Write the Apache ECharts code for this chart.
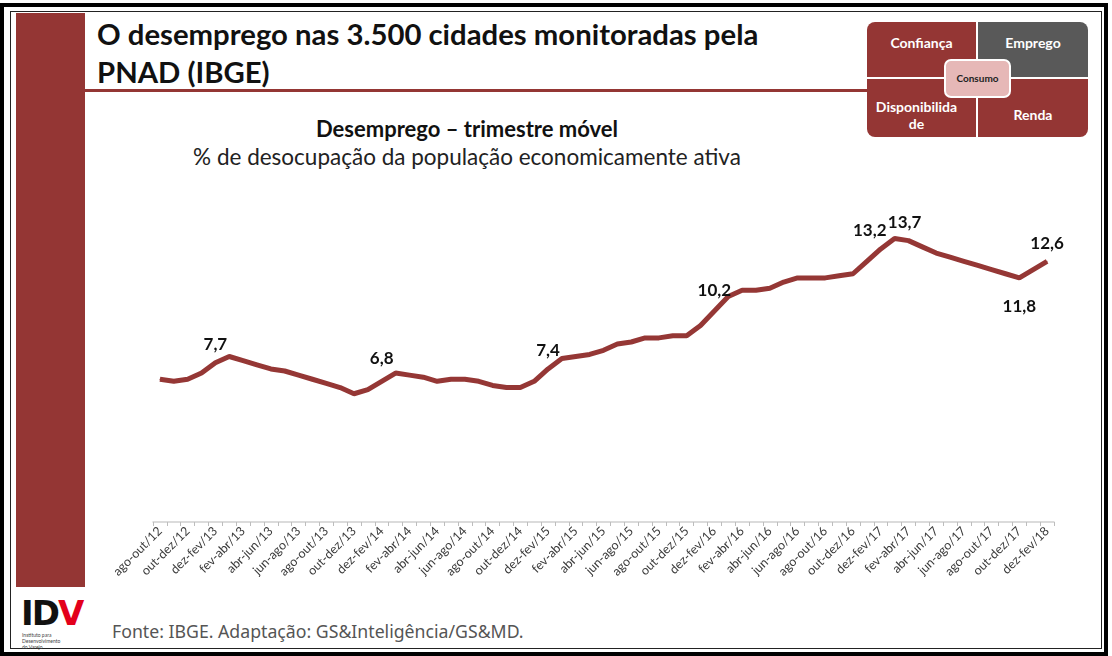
<!DOCTYPE html>
<html>
<head>
<meta charset="utf-8">
<script src="https://cdn.jsdelivr.net/npm/echarts@6/dist/echarts.min.js"></script>
<style>
  html, body { margin: 0; padding: 0; background: #fff; }
  body { width: 1112px; height: 656px; position: relative; overflow: hidden; font-family: Lato, "Noto Sans", sans-serif; }
  .abs { position: absolute; }
  .quad { position: absolute; color: #fff; font-weight: bold; font-size: 14px; text-align: center; line-height: 17px; }
</style>
</head>
<body>
<!-- moldura do slide -->
<div class="abs" style="left:0;top:3px;width:1108px;height:653px;border:4px solid #000;box-sizing:border-box;"></div>
<div class="abs" style="left:10px;top:11px;width:1092px;height:638px;border:1px solid #222;box-sizing:border-box;"></div>
<div class="abs" style="left:16px;top:13px;width:69px;height:574px;background:#943634;"></div>
<div class="abs" style="left:85px;top:89px;width:782px;height:3px;background:#943634;"></div>

<!-- titulo -->
<div class="abs" style="left:97px;top:15px;font-size:29.3px;font-weight:bold;line-height:38px;color:#111;">O desemprego nas 3.500 cidades monitoradas pela<br>PNAD (IBGE)</div>

<!-- quadro Consumo -->
<div class="abs" style="left:867px;top:22px;width:109px;height:55px;background:#943634;border-top-left-radius:8px;"></div>
<div class="abs" style="left:978px;top:22px;width:110px;height:55px;background:#595959;border-top-right-radius:8px;"></div>
<div class="abs" style="left:867px;top:79px;width:109px;height:58px;background:#943634;border-bottom-left-radius:8px;"></div>
<div class="abs" style="left:978px;top:79px;width:110px;height:58px;background:#943634;border-bottom-right-radius:8px;"></div>
<div class="quad" style="left:867px;top:34px;width:109px;">Confiança</div>
<div class="quad" style="left:978px;top:34px;width:110px;">Emprego</div>
<div class="quad" style="left:862px;top:98px;width:109px;">Disponibilida<br>de</div>
<div class="quad" style="left:978px;top:106px;width:110px;">Renda</div>
<div class="abs" style="left:944px;top:59px;width:63px;height:35px;background:#e6b8b7;border:2px solid #fff;border-radius:7px;font-size:10px;font-weight:bold;color:#222;text-align:center;line-height:35px;">Consumo</div>

<!-- titulo do grafico -->
<div class="abs" style="left:167px;top:115px;width:600px;text-align:center;font-size:22px;font-weight:bold;color:#111;">Desemprego – trimestre móvel</div>
<div class="abs" style="left:117px;top:143px;width:700px;text-align:center;font-size:22.5px;color:#222;">% de desocupação da população economicamente ativa</div>

<!-- rodape -->
<div class="abs" style="left:112px;top:619px;font-family:'Noto Sans';font-size:17.7px;color:#555;">Fonte: IBGE. Adaptação: GS&amp;Inteligência/GS&amp;MD.</div>
<div class="abs" style="left:21px;top:596px;font-family:'DejaVu Sans';font-weight:bold;font-size:34px;line-height:34px;letter-spacing:-2px;"><span style="color:#111;">ID</span><span style="color:#e3001b;">V</span></div>
<div class="abs" style="left:22px;top:632px;font-size:5px;line-height:6px;color:#444;">Instituto para<br>Desenvolvimento<br>do Varejo</div>

<div id="chart" class="abs" style="left:0;top:0;width:1112px;height:656px;"></div>

<script>
// categorias (trimestres moveis)
const categorias = [
  'ago-out/12','set-nov/12','out-dez/12','nov-jan/13','dez-fev/13','jan-mar/13','fev-abr/13','mar-mai/13',
  'abr-jun/13','mai-jul/13','jun-ago/13','jul-set/13','ago-out/13','set-nov/13','out-dez/13','nov-jan/14',
  'dez-fev/14','jan-mar/14','fev-abr/14','mar-mai/14','abr-jun/14','mai-jul/14','jun-ago/14','jul-set/14',
  'ago-out/14','set-nov/14','out-dez/14','nov-jan/15','dez-fev/15','jan-mar/15','fev-abr/15','mar-mai/15',
  'abr-jun/15','mai-jul/15','jun-ago/15','jul-set/15','ago-out/15','set-nov/15','out-dez/15','nov-jan/16',
  'dez-fev/16','jan-mar/16','fev-abr/16','mar-mai/16','abr-jun/16','mai-jul/16','jun-ago/16','jul-set/16',
  'ago-out/16','set-nov/16','out-dez/16','nov-jan/17','dez-fev/17','jan-mar/17','fev-abr/17','mar-mai/17',
  'abr-jun/17','mai-jul/17','jun-ago/17','jul-set/17','ago-out/17','set-nov/17','out-dez/17','nov-jan/18',
  'dez-fev/18'
];

// taxa de desocupacao (%)
const desemprego = [
  6.9, 6.8, 6.9, 7.2, 7.7, 8.0, 7.8, 7.6,
  7.4, 7.3, 7.1, 6.9, 6.7, 6.5, 6.2, 6.4,
  6.8, 7.2, 7.1, 7.0, 6.8, 6.9, 6.9, 6.8,
  6.6, 6.5, 6.5, 6.8, 7.4, 7.9, 8.0, 8.1,
  8.3, 8.6, 8.7, 8.9, 8.9, 9.0, 9.0, 9.5,
  10.2, 10.9, 11.2, 11.2, 11.3, 11.6, 11.8, 11.8,
  11.8, 11.9, 12.0, 12.6, 13.2, 13.7, 13.6, 13.3,
  13.0, 12.8, 12.6, 12.4, 12.2, 12.0, 11.8, 12.2,
  12.6
];

// pontos com rotulo
const rotulados = ['dez-fev/13', 'dez-fev/14', 'dez-fev/15', 'dez-fev/16', 'dez-fev/17', 'jan-mar/17', 'out-dez/17', 'dez-fev/18'];

// ajuste fino da posicao dos rotulos
const ajusteRotulo = {
  'dez-fev/14': { distance: 14 },
  'dez-fev/16': { distance: 11 },
  'dez-fev/17': { distance: 9, offset: [-11, 0] },
  'jan-mar/17': { distance: 7, offset: [10, 0] },
  'out-dez/17': { position: 'bottom', distance: 20 }
};

let dados = desemprego.map((v, i) => {
  let cat = categorias[i];
  if (rotulados.indexOf(cat) < 0) return v;
  return {
    value: v,
    label: Object.assign({ show: true, position: 'top', distance: 9 }, ajusteRotulo[cat] || {})
  };
});

let option = {
  animation: false,
  grid: { left: 153, right: 58, top: 191, bottom: 134 },
  xAxis: {
    type: 'category',
    data: categorias,
    boundaryGap: true,
    axisLine: { lineStyle: { color: '#d0d0d0', width: 1.5 } },
    axisTick: { show: true, interval: 0, length: 4, lineStyle: { color: '#bdbdbd' } },
    axisLabel: {
      interval: 1,
      rotate: 45,
      margin: 7,
      color: '#3a3a3a',
      fontFamily: 'Lato',
      fontSize: 12.5
    }
  },
  yAxis: { type: 'value', min: 0, max: 16, show: false },
  series: [{
    type: 'line',
    data: dados,
    symbol: 'circle',
    symbolSize: 1,
    itemStyle: { color: '#953735' },
    lineStyle: { color: '#953735', width: 5 },
    label: {
      show: false,
      color: '#111',
      fontFamily: 'Lato',
      fontWeight: 'bold',
      fontSize: 17,
      formatter: p => p.value.toFixed(1).replace('.', ',')
    }
  }]
};

let myChart = echarts.init(document.getElementById('chart'));
myChart.setOption(option);
</script>
</body>
</html>
